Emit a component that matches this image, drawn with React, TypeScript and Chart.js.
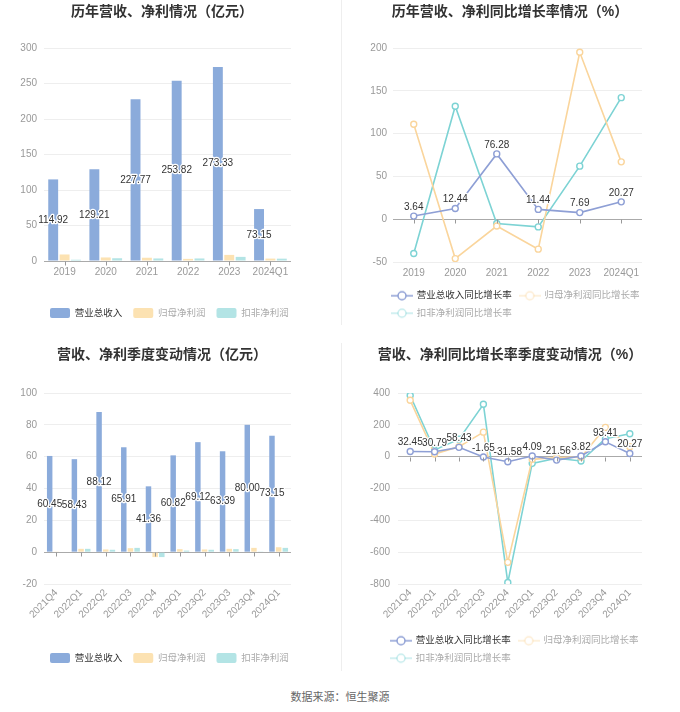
import React, { useEffect, useRef } from 'react';
import { Chart, registerables } from 'chart.js';

Chart.register(...registerables);

const FONT = '"Liberation Sans", "Noto Sans CJK SC", sans-serif';
Chart.defaults.font.family = FONT;

// ---------- data ----------
const years = ['2019', '2020', '2021', '2022', '2023', '2024Q1'];
const yearRevenue = [114.92, 129.21, 227.77, 253.82, 273.33, 73.15];
const yearNetProfit = [9.2, 5.0, 4.6, 3.0, 8.6, 3.4];
const yearDeducted = [1.8, 3.9, 3.6, 3.6, 5.8, 3.3];

const yearRevenueGrowth = [3.64, 12.44, 76.28, 11.44, 7.69, 20.27];
const yearNetProfitGrowth = [111, -46, -8, -35, 195, 67];
const yearDeductedGrowth = [-40, 132, -5, -9, 62, 142];

const quarters = ['2021Q4', '2022Q1', '2022Q2', '2022Q3', '2022Q4', '2023Q1', '2023Q2', '2023Q3', '2023Q4', '2024Q1'];
const qRevenue = [60.45, 58.43, 88.12, 65.91, 41.36, 60.82, 69.12, 63.39, 80.0, 73.15];
const qNetProfit = [0.2, 2.1, 1.7, 2.5, -3.1, 1.9, 1.7, 2.1, 2.7, 3.1];
const qDeducted = [0.3, 2.1, 1.5, 2.7, -3.1, 1.0, 1.5, 1.9, 0.2, 2.7];

const qRevenueGrowth = [32.45, 30.79, 58.43, -1.65, -31.58, 4.09, -21.56, 3.82, 93.41, 20.27];
const qNetProfitGrowth = [354, 17, 63, 154, -664, -17, -5, -3, 184, 63];
const qDeductedGrowth = [384, 42, 110, 329, -791, -42, -10, -27, 112, 144];

const barLegendNames = ['营业总收入', '归母净利润', '扣非净利润'];
const lineLegendNames = ['营业总收入同比增长率', '归母净利润同比增长率', '扣非净利润同比增长率'];

const titles = ['历年营收、净利情况（亿元）', '历年营收、净利同比增长率情况（%）', '营收、净利季度变动情况（亿元）', '营收、净利同比增长率季度变动情况（%）'];
const sourceText = '数据来源：恒生聚源';

// ---------- colours ----------
const BAR_COLORS = ['#8BABDB', '#FCE2B2', '#B3E4E5'];
const LINE_COLORS = ['#8E9FD5', '#FAD59C', '#7DD3D4'];
const LEGEND_TEXT = ['#333333', '#aaaaaa', '#aaaaaa'];

// ---------- plugins ----------
const titlePlugin = {
  id: 'panelTitle',
  afterDraw(chart: any, _args: any, opts: any) {
    if (!opts || !opts.text) return;
    const ctx = chart.ctx;
    ctx.save();
    ctx.font = `bold 14px ${FONT}`;
    ctx.fillStyle = '#333';
    ctx.textAlign = 'center';
    ctx.textBaseline = 'middle';
    ctx.fillText(opts.text, chart.width / 2 + (opts.dx || 0), opts.y || 12);
    ctx.restore();
  },
};

const legendPosPlugin = {
  id: 'legendPos',
  afterLayout(chart: any, _args: any, opts: any) {
    if (chart.legend && opts && typeof opts.left === 'number') {
      chart.legend.left = opts.left;
    }
  },
};

const zeroTickPlugin = {
  id: 'zeroTicks',
  afterDatasetsDraw(chart: any) {
    const xs = chart.scales.x;
    const ys = chart.scales.y;
    if (!xs || !ys) return;
    const y0 = Math.round(ys.getPixelForValue(0)) + 0.5;
    const ctx = chart.ctx;
    ctx.save();
    ctx.strokeStyle = '#999';
    ctx.lineWidth = 1;
    ctx.beginPath();
    for (let i = 0; i < xs.ticks.length; i++) {
      const px = Math.round(xs.getPixelForTick(i)) + 0.5;
      ctx.moveTo(px, y0);
      ctx.lineTo(px, y0 + 4);
    }
    ctx.stroke();
    ctx.restore();
  },
};

const valueLabelPlugin = {
  id: 'valueLabels',
  afterDatasetsDraw(chart: any) {
    const ctx = chart.ctx;
    const items: { text: string; x: number; y: number; baseline: string }[] = [];
    chart.data.datasets.forEach((ds: any, di: number) => {
      if (!ds.showLabel || !chart.isDatasetVisible(di)) return;
      const meta = chart.getDatasetMeta(di);
      meta.data.forEach((el: any, i: number) => {
        const text = Number(ds.data[i]).toFixed(2);
        if (meta.type === 'bar') {
          items.push({ text, x: el.x, y: (el.y + el.base) / 2, baseline: 'middle' });
        } else {
          items.push({ text, x: el.x, y: el.y - 4, baseline: 'bottom' });
        }
      });
    });
    ctx.save();
    ctx.font = `10px ${FONT}`;
    ctx.textAlign = 'center';
    ctx.lineJoin = 'round';
    ctx.strokeStyle = '#fff';
    ctx.lineWidth = 2.5;
    items.forEach((it) => {
      ctx.textBaseline = it.baseline;
      ctx.strokeText(it.text, it.x, it.y);
    });
    ctx.fillStyle = '#333';
    items.forEach((it) => {
      ctx.textBaseline = it.baseline;
      ctx.fillText(it.text, it.x, it.y);
    });
    ctx.restore();
  },
};

// ---------- helpers ----------
function makeMarker(color: string, alpha: number) {
  const c = document.createElement('canvas');
  c.width = 22;
  c.height = 12;
  const g = c.getContext('2d')!;
  g.globalAlpha = alpha;
  g.strokeStyle = color;
  g.lineWidth = 1.5;
  g.beginPath();
  g.moveTo(0, 6);
  g.lineTo(22, 6);
  g.stroke();
  g.globalAlpha = 1;
  g.fillStyle = '#fff';
  g.beginPath();
  g.arc(11, 6, 4, 0, Math.PI * 2);
  g.fill();
  g.globalAlpha = alpha;
  g.lineWidth = 1.5;
  g.stroke();
  return c;
}

function yScale(min: number, max: number, step: number, width: number, pad: number) {
  return {
    min,
    max,
    ticks: { stepSize: step, color: '#999', font: { size: 10 }, padding: pad },
    grid: {
      color: (c: any) => (c.tick && c.tick.value === 0 ? '#aaa' : '#eeeeee'),
      drawTicks: false,
      lineWidth: 1,
    },
    border: { display: false },
    afterFit: (s: any) => {
      s.width = width;
      s.paddingTop = 0;
      s.paddingBottom = 0;
    },
  };
}

function xScale(height: number, padRight: number, rotated: boolean) {
  return {
    offset: true,
    grid: { display: false, drawTicks: false },
    border: { display: false },
    ticks: {
      color: '#999',
      font: { size: 10 },
      padding: rotated ? 3 : 5,
      autoSkip: false,
      minRotation: rotated ? 45 : 0,
      maxRotation: rotated ? 45 : 0,
    },
    afterFit: (s: any) => {
      s.height = height;
      s.paddingLeft = 0;
      s.paddingRight = padRight;
    },
  };
}

function barLegend() {
  return {
    position: 'bottom',
    align: 'start',
    labels: {
      boxWidth: 20,
      boxHeight: 10,
      padding: 11,
      useBorderRadius: true,
      borderRadius: 2,
      font: { size: 9.5 },
      generateLabels: (chart: any) =>
        chart.data.datasets.map((ds: any, i: number) => ({
          text: ds.label,
          fillStyle: BAR_COLORS[i],
          strokeStyle: BAR_COLORS[i],
          lineWidth: 0,
          borderRadius: 2,
          fontColor: LEGEND_TEXT[i],
          hidden: !chart.isDatasetVisible(i),
          datasetIndex: i,
        })),
    },
  };
}

function lineLegend() {
  return {
    position: 'bottom',
    align: 'start',
    labels: {
      usePointStyle: true,
      pointStyleWidth: 20,
      padding: 8,
      font: { size: 9.5 },
      generateLabels: (chart: any) =>
        chart.data.datasets.map((ds: any, i: number) => ({
          text: ds.label,
          fillStyle: '#fff',
          strokeStyle: LINE_COLORS[i],
          lineWidth: 0,
          pointStyle: makeMarker(LINE_COLORS[i], i === 0 ? 1 : 0.45),
          fontColor: LEGEND_TEXT[i],
          hidden: !chart.isDatasetVisible(i),
          datasetIndex: i,
        })),
    },
  };
}

function barConfig(opts: {
  labels: string[];
  series: number[][];
  title: string;
  padTop: number;
  padBottom: number;
  yMin: number;
  yMax: number;
  yStep: number;
  yWidth: number;
  xHeight: number;
  xPadRight: number;
  rotated: boolean;
  catPct: number;
  barPct: number;
  legendLeft: number;
}) {
  return {
    type: 'bar',
    data: {
      labels: opts.labels,
      datasets: opts.series.map((d, i) => ({
        label: barLegendNames[i],
        data: d,
        backgroundColor: BAR_COLORS[i],
        borderWidth: 0,
        categoryPercentage: opts.catPct,
        barPercentage: opts.barPct,
        showLabel: i === 0,
      })),
    },
    options: {
      responsive: false,
      animation: false,
      devicePixelRatio: 1,
      layout: { padding: { top: opts.padTop, bottom: opts.padBottom, left: 0, right: 0 } },
      scales: {
        x: xScale(opts.xHeight, opts.xPadRight, opts.rotated),
        y: yScale(opts.yMin, opts.yMax, opts.yStep, opts.yWidth, 7),
      },
      plugins: {
        legend: barLegend(),
        title: { display: false },
        tooltip: { enabled: false },
        panelTitle: { text: opts.title, y: 12 },
        legendPos: { left: opts.legendLeft },
      },
    },
    plugins: [titlePlugin, legendPosPlugin, zeroTickPlugin, valueLabelPlugin],
  };
}

function lineConfig(opts: {
  labels: string[];
  series: number[][];
  title: string;
  padTop: number;
  padBottom: number;
  yMin: number;
  yMax: number;
  yStep: number;
  yWidth: number;
  yPad: number;
  xHeight: number;
  xPadRight: number;
  rotated: boolean;
  legendLeft: number;
}) {
  return {
    type: 'line',
    data: {
      labels: opts.labels,
      datasets: opts.series.map((d, i) => ({
        label: lineLegendNames[i],
        data: d,
        borderColor: LINE_COLORS[i],
        backgroundColor: '#fff',
        borderWidth: 1.6,
        pointRadius: 3,
        pointBorderWidth: 1.4,
        pointBackgroundColor: '#fff',
        pointBorderColor: LINE_COLORS[i],
        tension: 0,
        fill: false,
        showLabel: i === 0,
      })),
    },
    options: {
      responsive: false,
      animation: false,
      devicePixelRatio: 1,
      layout: { padding: { top: opts.padTop, bottom: opts.padBottom, left: 0, right: 0 } },
      scales: {
        x: xScale(opts.xHeight, opts.xPadRight, opts.rotated),
        y: yScale(opts.yMin, opts.yMax, opts.yStep, opts.yWidth, opts.yPad),
      },
      plugins: {
        legend: lineLegend(),
        title: { display: false },
        tooltip: { enabled: false },
        panelTitle: { text: opts.title, y: 12 },
        legendPos: { left: opts.legendLeft },
      },
    },
    plugins: [titlePlugin, legendPosPlugin, zeroTickPlugin, valueLabelPlugin],
  };
}

function ChartPanel({ left, top, width, height, build }: { left: number; top: number; width: number; height: number; build: () => any }) {
  const ref = useRef<HTMLCanvasElement>(null);
  useEffect(() => {
    const chart = new Chart(ref.current as HTMLCanvasElement, build());
    return () => chart.destroy();
  }, []);
  return (
    <div style={{ position: 'absolute', left, top, width, height }}>
      <canvas ref={ref} width={width} height={height} style={{ display: 'block', width, height }} />
    </div>
  );
}

export default function App() {
  return (
    <div style={{ position: 'absolute', left: 0, top: 0, width: 680, height: 712, background: '#fff', overflow: 'hidden' }}>
      <ChartPanel
        left={0}
        top={0}
        width={324}
        height={330}
        build={() =>
          barConfig({
            labels: years,
            series: [yearRevenue, yearNetProfit, yearDeducted],
            title: titles[0],
            padTop: 48,
            padBottom: 2,
            yMin: 0,
            yMax: 300,
            yStep: 50,
            yWidth: 44,
            xHeight: 36,
            xPadRight: 33,
            rotated: false,
            catPct: 0.83,
            barPct: 0.87,
            legendLeft: 39,
          })
        }
      />
      <ChartPanel
        left={340}
        top={0}
        width={340}
        height={330}
        build={() =>
          lineConfig({
            labels: years,
            series: [yearRevenueGrowth, yearNetProfitGrowth, yearDeductedGrowth],
            title: titles[1],
            padTop: 48,
            padBottom: 2,
            yMin: -50,
            yMax: 200,
            yStep: 50,
            yWidth: 53,
            yPad: 6,
            xHeight: 21,
            xPadRight: 38,
            rotated: false,
            legendLeft: 44,
          })
        }
      />
      <ChartPanel
        left={0}
        top={343}
        width={324}
        height={330}
        build={() =>
          barConfig({
            labels: quarters,
            series: [qRevenue, qNetProfit, qDeducted],
            title: titles[2],
            padTop: 50,
            padBottom: 0,
            yMin: -20,
            yMax: 100,
            yStep: 20,
            yWidth: 44,
            xHeight: 58,
            xPadRight: 33,
            rotated: true,
            catPct: 0.81,
            barPct: 0.82,
            legendLeft: 39,
          })
        }
      />
      <ChartPanel
        left={340}
        top={343}
        width={340}
        height={330}
        build={() =>
          lineConfig({
            labels: quarters,
            series: [qRevenueGrowth, qNetProfitGrowth, qDeductedGrowth],
            title: titles[3],
            padTop: 50,
            padBottom: 0,
            yMin: -800,
            yMax: 400,
            yStep: 200,
            yWidth: 58,
            yPad: 8,
            xHeight: 44,
            xPadRight: 38,
            rotated: true,
            legendLeft: 43,
          })
        }
      />
      <div style={{ position: 'absolute', left: 341, top: 0, width: 1, height: 325, background: '#eeeeee' }} />
      <div style={{ position: 'absolute', left: 341, top: 343, width: 1, height: 328, background: '#eeeeee' }} />
      <div
        style={{
          position: 'absolute',
          left: 0,
          top: 689,
          width: 680,
          textAlign: 'center',
          fontFamily: FONT,
          fontSize: 11,
          lineHeight: '16px',
          color: '#666',
        }}
      >
        {sourceText}
      </div>
    </div>
  );
}
